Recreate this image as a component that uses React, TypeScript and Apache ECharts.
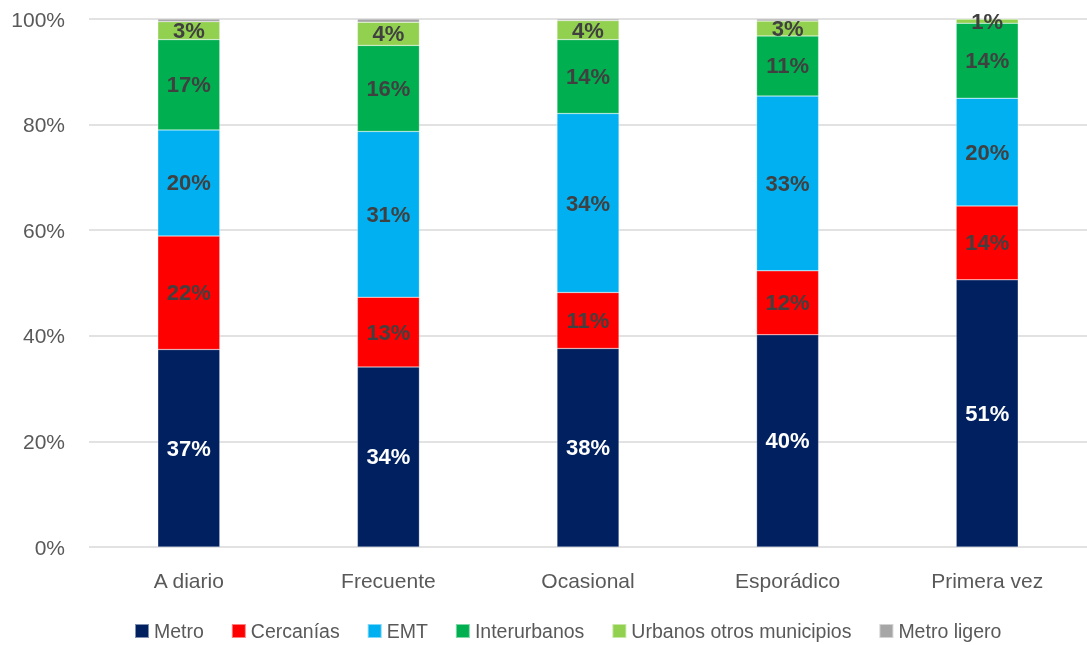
import React, { useEffect, useRef } from "react";
import * as echarts from "echarts";

const categories = ["A diario", "Frecuente", "Ocasional", "Esporádico", "Primera vez"];
const seriesNames = ["Metro", "Cercanías", "EMT", "Interurbanos", "Urbanos otros municipios", "Metro ligero"];
const metro = [37.4, 34.1, 37.6, 40.2, 50.6];
const cercanias = [21.5, 13.2, 10.6, 12.1, 14.0];
const emt = [20.1, 31.4, 33.9, 33.1, 20.4];
const interurbanos = [17.1, 16.3, 14.0, 11.4, 14.2];
const urbanos = [3.4, 4.4, 3.6, 2.8, 0.8];
const metroLigero = [0.5, 0.6, 0.3, 0.4, 0.0];
const colors = ["#002060", "#FF0000", "#00B0F0", "#00B050", "#92D050", "#A6A6A6"];
const yTicks = [0, 20, 40, 60, 80, 100];

const SANS = "'Liberation Sans', Arial, sans-serif";

export default function App() {
  const ref = useRef<HTMLDivElement>(null);
  useEffect(() => {
    if (!ref.current) return;
    const chart = echarts.init(ref.current, null, { renderer: "svg" });
    const values = [metro, cercanias, emt, interurbanos, urbanos, metroLigero];
    const series = values.map((data, i) => ({
      name: seriesNames[i],
      type: "bar",
      stack: "total",
      barWidth: 62,
      data,
      itemStyle: { color: colors[i], borderColor: "rgba(255,255,255,0.5)", borderWidth: 0.5 },
      label: {
        show: i < 5,
        position: "inside",
        formatter: (p: any) => `${Math.round(p.value)}%`,
        color: i === 0 ? "#FFFFFF" : "#404040",
        fontFamily: SANS,
        fontWeight: "bold",
        fontSize: 22,
      },
    }));
    chart.setOption({
      animation: false,
      grid: { left: 89, width: 1008, top: 19, bottom: 98 },
      legend: {
        data: seriesNames,
        bottom: -1,
        left: 129,
        icon: "rect",
        itemWidth: 14,
        itemHeight: 14,
        itemGap: 27,
        textStyle: { fontFamily: SANS, fontSize: 19.5, color: "#595959" },
      },
      xAxis: {
        type: "category",
        data: categories,
        axisLine: { show: false },
        axisTick: { show: false },
        axisLabel: { fontFamily: SANS, fontSize: 21, color: "#595959", margin: 23 },
      },
      yAxis: {
        type: "value",
        min: yTicks[0],
        max: yTicks[yTicks.length - 1],
        interval: 20,
        axisLine: { show: false },
        axisTick: { show: false },
        axisLabel: { formatter: "{value}%", fontFamily: SANS, fontSize: 21, color: "#595959", margin: 24 },
        splitLine: { lineStyle: { color: "#D9D9D9", width: 1.5 } },
      },
      series,
    });
    return () => chart.dispose();
  }, []);
  return <div ref={ref} style={{ position: "fixed", left: 0, top: 0, width: 1087, height: 645 }} />;
}
